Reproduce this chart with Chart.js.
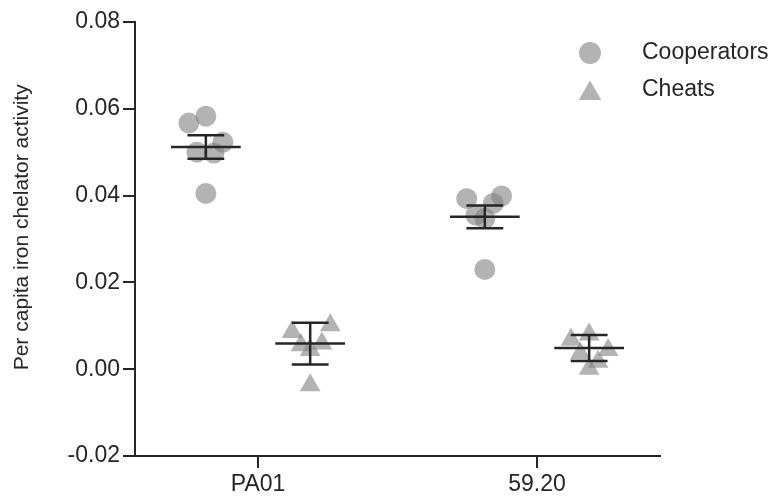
<!DOCTYPE html>
<html>
<head>
<meta charset="utf-8">
<script src="https://cdn.jsdelivr.net/npm/chart.js@4.4.1/dist/chart.umd.min.js"></script>
<style>
  html, body { margin: 0; padding: 0; background: #fff; }
  #wrap { width: 775px; height: 497px; }
</style>
</head>
<body>
<div id="wrap"><canvas id="chelator" width="775" height="497"></canvas></div>
<script>
const CATEGORIES = ['PA01', '59.20'];
const SERIES = ['Cooperators', 'Cheats'];

// individual replicates, one list per strain
const COOP_VALUES = [
    [0.0567, 0.0583, 0.0523, 0.0500, 0.0498, 0.0405],
    [0.0393, 0.0399, 0.0382, 0.0355, 0.0347, 0.0230]
];
const COOP_JITTER = [
    [-0.061, 0, 0.061, -0.032, 0.029, 0],
    [-0.065, 0.060, 0.030, -0.032, 0, 0]
];
const CHEAT_VALUES = [
    [0.0086, 0.0101, 0.0055, 0.0059, 0.0044, -0.0037],
    [0.0080, 0.0068, 0.0036, 0.0044, 0.0017, 0.0001]
];
const CHEAT_JITTER = [
    [-0.065, 0.072, -0.033, 0.042, 0, 0],
    [0, -0.065, -0.032, 0.068, 0.032, 0]
];

// mean and error bar half-length, as drawn
const COOP_MEAN = [0.0512, 0.0351];
const COOP_ERR = [0.0027, 0.0026];
const CHEAT_MEAN = [0.0059, 0.0049];
const CHEAT_ERR = [0.0048, 0.0030];

const Y_TICKS = [-0.02, 0, 0.02, 0.04, 0.06, 0.08];

const GROUP_SHIFT = 0.187;
const MEAN_HALF = 0.125;
const CAP_HALF = 0.066;
const GREY = 'rgba(128,128,128,0.6)';
const INK = '#262626';

function points(values, jitter, shift) {
    const out = [];
    values.forEach((list, c) => {
        list.forEach((v, i) => out.push({ x: c + 1 + shift + jitter[c][i], y: v }));
    });
    return out;
}

function errorBars(means, errs, shift) {
    const out = [];
    means.forEach((m, c) => {
        const x = c + 1 + shift;
        const e = errs[c];
        out.push({ x: x - MEAN_HALF, y: m }, { x: x + MEAN_HALF, y: m }, { x: x, y: null });
        out.push({ x: x, y: m - e }, { x: x, y: m + e }, { x: x, y: null });
        out.push({ x: x - CAP_HALF, y: m + e }, { x: x + CAP_HALF, y: m + e }, { x: x, y: null });
        out.push({ x: x - CAP_HALF, y: m - e }, { x: x + CAP_HALF, y: m - e }, { x: x, y: null });
    });
    return out;
}

// legend drawn inside the plot, top right
const cornerLegend = {
    id: 'cornerLegend',
    afterDraw(chart) {
        const ctx = chart.ctx;
        ctx.save();
        chart.data.datasets.forEach((ds, i) => {
            if (!ds.inLegend) return;
            const y = 53 + i * 36.5;
            const x = 590;
            ctx.fillStyle = ds.backgroundColor;
            ctx.beginPath();
            if (ds.pointStyle === 'triangle') {
                const r = 13, cy = y + 4;
                ctx.moveTo(x, cy - r);
                ctx.lineTo(x + r * Math.sin(2 * Math.PI / 3), cy + r / 2);
                ctx.lineTo(x - r * Math.sin(2 * Math.PI / 3), cy + r / 2);
                ctx.closePath();
            } else {
                ctx.arc(x, y, 11, 0, Math.PI * 2);
            }
            ctx.fill();
            ctx.fillStyle = INK;
            ctx.font = '23px "Liberation Sans", Arial, sans-serif';
            ctx.textBaseline = 'middle';
            ctx.textAlign = 'left';
            ctx.fillText(ds.label, 642, y);
        });
        ctx.restore();
    }
};

const ctx = document.getElementById('chelator').getContext('2d');

new Chart(ctx, {
    type: 'scatter',
    data: {
        datasets: [
            {
                label: SERIES[0],
                inLegend: true,
                data: points(COOP_VALUES, COOP_JITTER, -GROUP_SHIFT),
                pointStyle: 'circle',
                pointRadius: 10.5,
                backgroundColor: GREY,
                borderWidth: 0
            },
            {
                label: SERIES[1],
                inLegend: true,
                data: points(CHEAT_VALUES, CHEAT_JITTER, GROUP_SHIFT),
                pointStyle: 'triangle',
                pointRadius: 12,
                backgroundColor: GREY,
                borderWidth: 0
            },
            {
                type: 'line',
                label: 'mean cooperators',
                data: errorBars(COOP_MEAN, COOP_ERR, -GROUP_SHIFT),
                borderColor: INK,
                borderWidth: 2.5,
                pointRadius: 0,
                spanGaps: false,
                order: -1
            },
            {
                type: 'line',
                label: 'mean cheats',
                data: errorBars(CHEAT_MEAN, CHEAT_ERR, GROUP_SHIFT),
                borderColor: INK,
                borderWidth: 2.5,
                pointRadius: 0,
                spanGaps: false,
                order: -1
            }
        ]
    },
    options: {
        responsive: false,
        animation: false,
        layout: { padding: { left: 0, top: 22, right: 115, bottom: 0 } },
        plugins: {
            legend: { display: false },
            tooltip: { enabled: false }
        },
        scales: {
            x: {
                type: 'linear',
                min: 0.559,
                max: 2.441,
                afterBuildTicks: (scale) => {
                    scale.ticks = CATEGORIES.map((c, i) => ({ value: i + 1 }));
                },
                afterFit: (scale) => { scale.height = 41; },
                ticks: {
                    callback: (v) => CATEGORIES[Math.round(v) - 1],
                    color: INK,
                    padding: 3,
                    maxRotation: 0,
                    font: { family: '"Liberation Sans", Arial, sans-serif', size: 23 }
                },
                grid: { drawOnChartArea: false, drawTicks: true, tickLength: 12, color: INK, lineWidth: 2 },
                border: { display: true, color: INK, width: 2 }
            },
            y: {
                min: -0.02,
                max: 0.08,
                afterBuildTicks: (scale) => {
                    scale.ticks = Y_TICKS.map((v) => ({ value: v }));
                },
                afterFit: (scale) => { scale.width = 135; },
                ticks: {
                    callback: (v) => v.toFixed(2),
                    color: INK,
                    padding: 3,
                    font: { family: '"Liberation Sans", Arial, sans-serif', size: 23 }
                },
                title: {
                    display: true,
                    // leading spaces nudge the rotated title up a little, as in the original
                    text: '    Per capita iron chelator activity',
                    color: INK,
                    padding: { top: 10, bottom: 4 },
                    font: { family: '"Liberation Sans", Arial, sans-serif', size: 21 }
                },
                grid: { drawOnChartArea: false, drawTicks: true, tickLength: 12, color: INK, lineWidth: 2 },
                border: { display: true, color: INK, width: 2 }
            }
        }
    },
    plugins: [cornerLegend]
});
</script>
</body>
</html>
